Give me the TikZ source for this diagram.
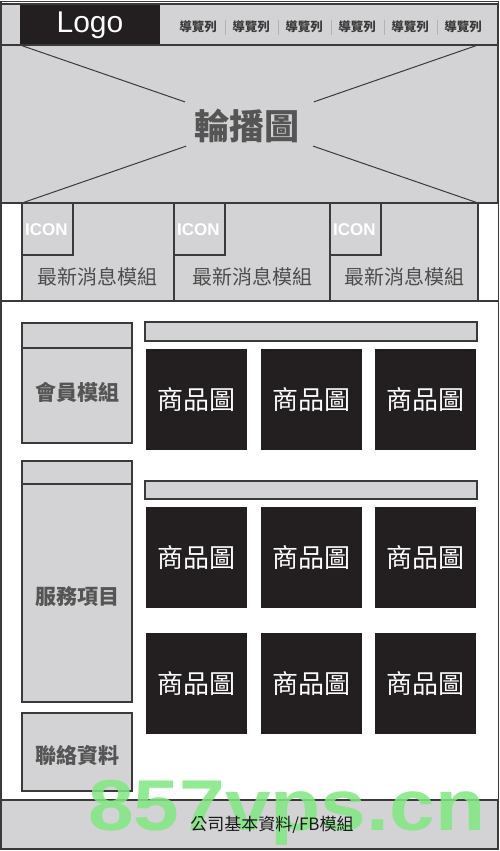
\documentclass[tikz,border=0pt]{standalone}
\usepackage{fontspec}
\setmainfont{Liberation Sans}
\newfontfamily\cjk{Noto Sans CJK TC}
\usetikzlibrary{positioning, calc}
\definecolor{boxgray}{HTML}{D3D3D5}
\definecolor{linegray}{HTML}{3A3A3A}
\definecolor{textgray}{HTML}{555555}
\definecolor{prodblack}{HTML}{231F20}
\definecolor{markgreen}{RGB}{128,232,128}

\begin{document}
\begin{tikzpicture}[x=1pt, y=-1pt]
\tikzset{
  box/.style={draw=linegray, fill=boxgray, line width=1.2pt},
  modtext/.style={text=textgray, font=\cjk\bfseries\fontsize{21}{21}\selectfont},
  newstext/.style={text=textgray!90!black, font=\cjk\fontsize{20}{20}\selectfont},
  navtext/.style={text=linegray, font=\cjk\bfseries\fontsize{12.5}{12.5}\selectfont},
  prod/.style={fill=prodblack, minimum width=101pt, minimum height=101pt, inner sep=0pt,
    text=white, font=\cjk\fontsize{26}{26}\selectfont},
  icontext/.style={text=white, font=\bfseries\fontsize{17}{17}\selectfont, anchor=west, inner sep=0pt}
}

\useasboundingbox (0,0) rectangle (500,851);
\fill[white] (0,0) rectangle (500,851);

% header
\filldraw[box] (1,4) rectangle (498,45);
\fill[prodblack] (20,4.6) rectangle (160,45);
\node[text=white, font=\fontsize{30}{30}\selectfont] (logo) at (90,25) {Logo};
\node[navtext] (nav1) at (198,27) {導覽列};
\node[navtext] (nav2) at (251,27) {導覽列};
\node[navtext] (nav3) at (304,27) {導覽列};
\node[navtext] (nav4) at (357,27) {導覽列};
\node[navtext] (nav5) at (410,27) {導覽列};
\node[navtext] (nav6) at (463,27) {導覽列};
\draw[gray!60, line width=0.8pt] (225,20) -- (225,35);
\draw[gray!60, line width=0.8pt] (278,20) -- (278,35);
\draw[gray!60, line width=0.8pt] (331,20) -- (331,35);
\draw[gray!60, line width=0.8pt] (384,20) -- (384,35);
\draw[gray!60, line width=0.8pt] (437,20) -- (437,35);

% carousel
\filldraw[box] (1,45) rectangle (498,203);
\coordinate (XA) at (20,45);
\coordinate (XB) at (478,203);
\coordinate (XC) at (478,45);
\coordinate (XD) at (22,203);
\draw[linegray, line width=1pt] (XA) -- ($(XA)!0.36!(XB)$);
\draw[linegray, line width=1pt] (XB) -- ($(XB)!0.36!(XA)$);
\draw[linegray, line width=1pt] (XC) -- ($(XC)!0.36!(XD)$);
\draw[linegray, line width=1pt] (XD) -- ($(XD)!0.36!(XC)$);
\node[text=textgray, font=\cjk\bfseries\fontsize{35}{35}\selectfont] (slide) at (247,126) {輪播圖};

% news row
\draw[box] (22,203) rectangle (174,301);
\draw[box] (174,203) rectangle (330,301);
\draw[box] (330,203) rectangle (478,301);
\draw[box] (22,203) rectangle (73,255);
\draw[box] (174,203) rectangle (225,255);
\draw[box] (330,203) rectangle (381,255);
\node[icontext] (icon1) at (25,230) {ICON};
\node[icontext] (icon2) at (177,230) {ICON};
\node[icontext] (icon3) at (333,230) {ICON};
\node[newstext] (news1) at (97,277) {最新消息模組};
\node[newstext] (news2) at (252,277) {最新消息模組};
\node[newstext] (news3) at (404,277) {最新消息模組};
\draw[linegray, line width=1.2pt] (1,301) -- (498,301);

% left column
\draw[box] (22,323) rectangle (132,443);
\draw[linegray, line width=1.2pt] (22,348) -- (132,348);
\node[modtext] (member) at (77,392) {會員模組};
\draw[box] (22,461) rectangle (132,702);
\draw[linegray, line width=1.2pt] (22,484) -- (132,484);
\node[modtext] (service) at (77,597) {服務項目};
\draw[box] (22,713) rectangle (132,791);
\node[modtext] (contact) at (77,755) {聯絡資料};

% products
\draw[box] (145,322) rectangle (477,341);
\draw[box] (145,481) rectangle (477,499);
\node[prod] (prodA1) at (196.5,399.5) {商品圖};
\node[prod] (prodA2) at (311,399.5) {商品圖};
\node[prod] (prodA3) at (425.5,399.5) {商品圖};
\node[prod] (prodB1) at (196.5,557.5) {商品圖};
\node[prod] (prodB2) at (311,557.5) {商品圖};
\node[prod] (prodB3) at (425.5,557.5) {商品圖};
\node[prod] (prodC1) at (196.5,683.5) {商品圖};
\node[prod] (prodC2) at (311,683.5) {商品圖};
\node[prod] (prodC3) at (425.5,683.5) {商品圖};

% footer
\filldraw[box] (1,800) rectangle (498,849);

% outer frame
\draw[linegray, line width=1.5pt] (1,1.5) rectangle (498.5,849.5);

% watermark
\node[anchor=base west, inner sep=0pt, text=markgreen, opacity=0.85, xscale=1.14,
  font=\bfseries\fontsize{72}{72}\selectfont] (mark) at (88,830) {857vps.cn};
\node[text=black!90, font=\cjk\fontsize{17}{17}\selectfont] (footer) at (272,825) {公司基本資料/FB模組};
\end{tikzpicture}
\end{document}
